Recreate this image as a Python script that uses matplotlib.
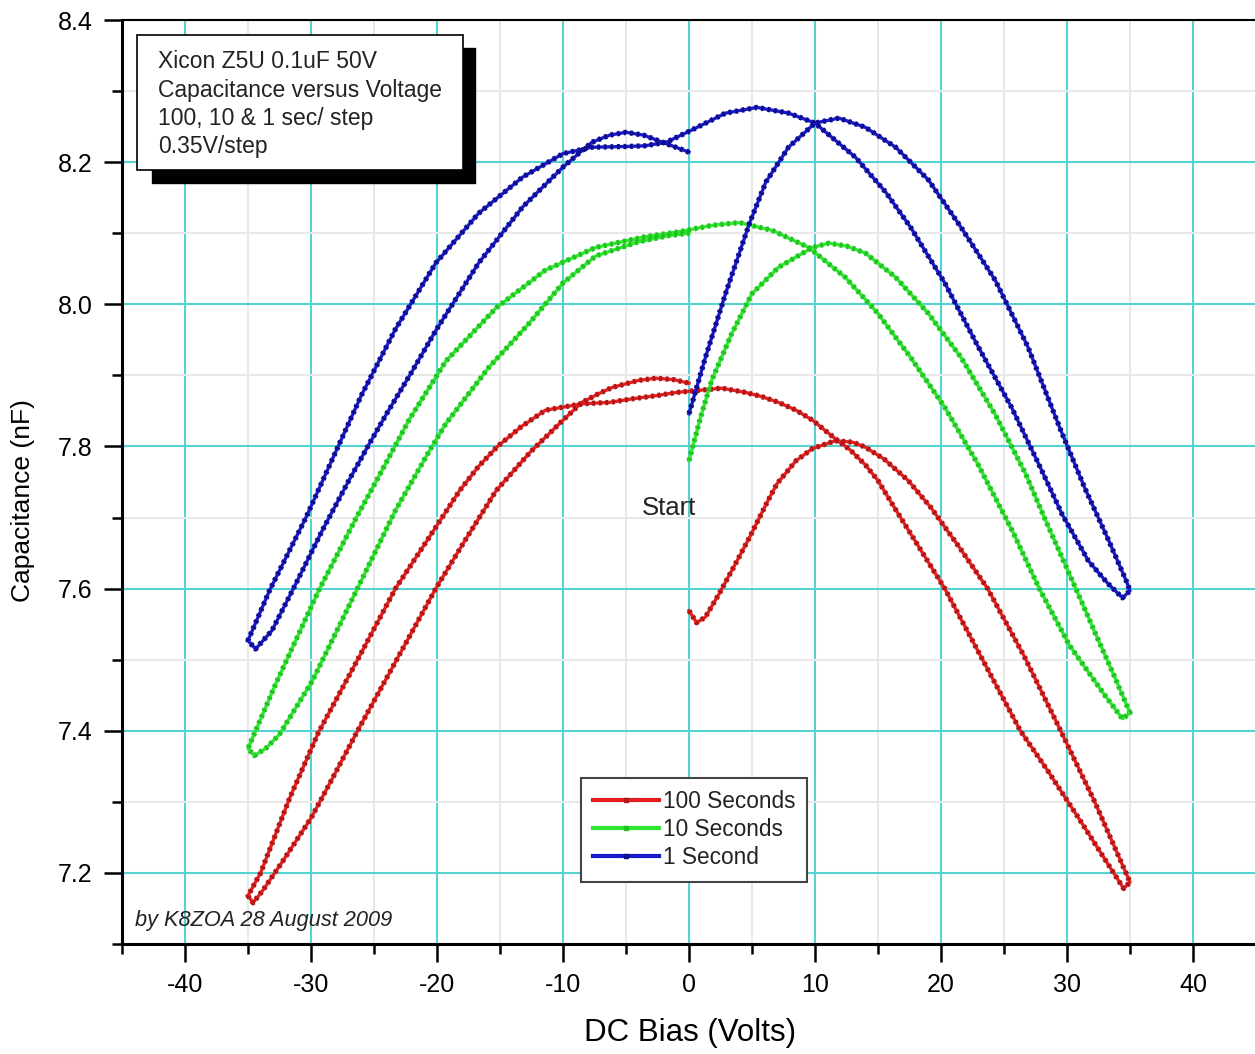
import matplotlib
matplotlib.use('Agg')
import matplotlib.pyplot as plt
from matplotlib.patches import Rectangle
from matplotlib.lines import Line2D
from matplotlib.ticker import MultipleLocator

plt.rcParams['font.family'] = ['Liberation Sans', 'DejaVu Sans']
plt.rcParams['axes.unicode_minus'] = False

# 100 s/step sweep: 0 -> +35 V, +35 -> -35 V, -35 -> 0 V
red_up_v = [0, 0.6, 1.3, 2.4, 3.6, 4.8, 6.3, 7.0, 8.5, 9.8, 11.6, 13.0, 14.0, 15.5, 17.4, 19.2, 21.5, 23.7, 26.6, 29.5, 32.2, 35.0]
red_up_c = [7.569, 7.552, 7.560, 7.593, 7.632, 7.672, 7.725, 7.748, 7.780, 7.797, 7.808, 7.806, 7.799, 7.782, 7.752, 7.714, 7.657, 7.600, 7.505, 7.400, 7.300, 7.187]
red_down_v = [34.5, 33.7, 31.0, 28.5, 26.3, 23.3, 20.3, 18.3, 16.3, 15.0, 14.0, 12.8, 11.6, 9.8, 8.5, 7.1, 5.8, 4.5, 2.6, 0.8,
              -1.0, -2.4, -4.5, -6.3, -8.5, -11.4, -13.3, -15.2, -16.7, -18.2, -20.7, -23.3, -26.3, -29.4, -31.7, -34.0, -35.0]
red_down_c = [7.178, 7.200, 7.275, 7.343, 7.400, 7.500, 7.600, 7.657, 7.714, 7.752, 7.774, 7.795, 7.811, 7.837, 7.851, 7.862, 7.870, 7.876, 7.882, 7.879,
              7.876, 7.872, 7.867, 7.862, 7.860, 7.851, 7.828, 7.800, 7.772, 7.738, 7.670, 7.600, 7.500, 7.398, 7.305, 7.200, 7.168]
red_back_v = [-34.6, -33.8, -32.3, -30.0, -28.3, -26.3, -23.2, -20.1, -17.7, -15.3, -12.6, -10.0, -8.5, -7.2, -6.1, -4.0, -2.6, -1.2, 0.0]
red_back_c = [7.158, 7.176, 7.215, 7.277, 7.333, 7.400, 7.500, 7.600, 7.670, 7.738, 7.792, 7.837, 7.862, 7.874, 7.883, 7.893, 7.896, 7.894, 7.889]

# 10 s/step sweep
green_up_v = [0, 0.9, 1.8, 3.4, 5.0, 7.1, 9.8, 11.1, 12.5, 14.0, 16.4, 19.0, 21.6, 24.3, 26.7, 28.2, 30.7, 32.5, 33.8, 35.0]
green_up_c = [7.780, 7.840, 7.893, 7.959, 8.015, 8.052, 8.080, 8.086, 8.082, 8.072, 8.038, 7.987, 7.925, 7.845, 7.762, 7.700, 7.600, 7.527, 7.475, 7.425]
green_down_v = [34.4, 33.0, 30.2, 27.8, 25.7, 22.9, 20.3, 17.6, 15.0, 12.4, 9.5, 6.6, 4.0, 1.8, -0.8,
                -3.5, -7.4, -11.4, -15.3, -19.3, -22.2, -24.8, -26.4, -29.4, -32.8, -35.0]
green_down_c = [7.417, 7.450, 7.520, 7.600, 7.680, 7.776, 7.855, 7.925, 7.987, 8.038, 8.080, 8.104, 8.115, 8.111, 8.102,
                8.095, 8.080, 8.048, 7.995, 7.920, 7.838, 7.752, 7.700, 7.597, 7.466, 7.375]
green_back_v = [-34.5, -33.6, -32.5, -29.9, -26.4, -23.3, -20.6, -19.3, -15.9, -12.7, -10.0, -7.4, -4.0, -1.5, 0.0]
green_back_c = [7.365, 7.375, 7.395, 7.470, 7.597, 7.710, 7.794, 7.832, 7.911, 7.973, 8.030, 8.068, 8.088, 8.097, 8.100]

# 1 s/step sweep
blue_up_v = [0, 1.3, 2.9, 4.8, 6.1, 7.9, 10.0, 11.9, 14.0, 16.4, 19.0, 21.6, 24.3, 26.9, 29.5, 31.4, 33.3, 34.7, 35.0]
blue_up_c = [7.846, 7.925, 8.015, 8.114, 8.172, 8.221, 8.255, 8.262, 8.249, 8.221, 8.175, 8.108, 8.034, 7.940, 7.823, 7.742, 7.668, 7.611, 7.597]
blue_down_v = [34.4, 33.2, 31.7, 29.6, 28.0, 25.6, 22.9, 20.3, 17.6, 15.6, 13.2, 10.0, 7.9, 5.4, 2.9,
               0.2, -1.8, -3.5, -5.0, -7.7, -10.0, -13.2, -16.7, -20.1, -23.3, -26.0, -28.0, -30.4, -33.3, -35.0]
blue_down_c = [7.587, 7.608, 7.639, 7.705, 7.766, 7.855, 7.942, 8.030, 8.108, 8.158, 8.207, 8.255, 8.269, 8.277, 8.269,
               8.245, 8.228, 8.223, 8.222, 8.221, 8.212, 8.179, 8.128, 8.058, 7.965, 7.872, 7.794, 7.700, 7.597, 7.527]
blue_back_v = [-34.4, -33.1, -31.2, -29.1, -27.0, -25.4, -24.0, -22.0, -20.1, -16.7, -13.2, -10.0, -8.7, -7.7, -6.3, -5.0, -3.6, -2.4, -1.2, 0.0]
blue_back_c = [7.515, 7.541, 7.607, 7.682, 7.752, 7.803, 7.846, 7.905, 7.963, 8.058, 8.137, 8.193, 8.213, 8.228, 8.238, 8.242, 8.238, 8.230, 8.222, 8.214]

series = [
    ('100 Seconds', red_up_v + red_down_v + red_back_v, red_up_c + red_down_c + red_back_c, '#e61e1e', '#b01616'),
    ('10 Seconds', green_up_v + green_down_v + green_back_v, green_up_c + green_down_c + green_back_c, '#30e630', '#20c420'),
    ('1 Second', blue_up_v + blue_down_v + blue_back_v, blue_up_c + blue_down_c + blue_back_c, '#1818cc', '#0c0c8c'),
]

W, H = 1255, 1054
fig = plt.figure(figsize=(W / 100, H / 100), dpi=100)
ax = fig.add_axes([122 / W, 110 / H, 1134 / W, 924 / H])

ax.set_xlim(-45, 45)
ax.set_ylim(7.1, 8.4)
ax.xaxis.set_major_locator(MultipleLocator(10))
ax.xaxis.set_minor_locator(MultipleLocator(5))
ax.yaxis.set_minor_locator(MultipleLocator(0.1))
ax.set_yticks([7.2, 7.4, 7.6, 7.8, 8.0, 8.2, 8.4])
ax.set_yticklabels(['7.2', '7.4', '7.6', '7.8', '8.0', '8.2', '8.4'])

ax.grid(which='minor', color='#e8e8e8', lw=1.5, zorder=0)
ax.grid(which='major', color='#55d3d3', lw=1.5, zorder=0)
ax.set_axisbelow(True)

ax.tick_params(which='major', direction='out', length=13, width=1.8, pad=8, labelsize=18)
ax.tick_params(which='minor', direction='out', length=7, width=1.8)
ax.spines['right'].set_visible(False)
ax.spines['left'].set_linewidth(2.2)
ax.spines['bottom'].set_linewidth(2.2)
ax.spines['top'].set_linewidth(1.5)

for name, v, c, col, dark in series:
    ax.plot(v, c, color=col, lw=2.4, zorder=3, solid_joinstyle='round')
    ax.plot(v, c, color=dark, lw=3.8, ls=(0, (0.55, 0.7)), zorder=3)

ax.set_xlabel('DC Bias (Volts)', fontsize=22.5)
ax.set_ylabel('Capacitance (nF)', fontsize=19)
ax.xaxis.set_label_coords(0.501, -0.080)
ax.yaxis.set_label_coords(-0.077, 0.48)

ax.text(-1.6, 7.714, 'Start', fontsize=18.5, ha='center', va='center', color='#222222')
ax.text(0.0115, 0.025, 'by K8ZOA 28 August 2009', transform=ax.transAxes, fontsize=15.7,
        style='italic', color='#222222', ha='left', va='center')

handles = [Line2D([0], [0], color=col, lw=3, marker='s', ms=3, mfc=dark, mec=dark)
           for name, v, c, col, dark in series]
leg = ax.legend(handles, [s[0] for s in series], loc='upper left', bbox_to_anchor=(0.4048, 0.1797),
                borderaxespad=0, fontsize=16.3, frameon=True, fancybox=False, framealpha=1,
                edgecolor='#444444', handlelength=2.9, handletextpad=0.15, labelspacing=0.22,
                borderpad=0.55, numpoints=1)
leg.get_frame().set_linewidth(1.5)
for t in leg.get_texts():
    t.set_color('#222222')


def px(x, y):
    return x / W, 1 - y / H


# title box with drop shadow
x0, y0 = px(152, 183)
fig.add_artist(Rectangle((x0, y0), (475 - 152) / W, (183 - 48) / H, transform=fig.transFigure,
                         facecolor='black', edgecolor='black', zorder=5))
x0, y0 = px(137, 170)
fig.add_artist(Rectangle((x0, y0), (463 - 137) / W, (170 - 35) / H, transform=fig.transFigure,
                         facecolor='white', edgecolor='black', lw=1.2, zorder=6))
box_lines = ['Xicon Z5U 0.1uF 50V', 'Capacitance versus Voltage', '100, 10 & 1 sec/ step', '0.35V/step']
for i, line in enumerate(box_lines):
    fig.text(*px(158, 62 + i * 28), line, fontsize=16.5, ha='left', va='center', color='#222222', zorder=7)

fig.savefig('out.png', dpi=100)
